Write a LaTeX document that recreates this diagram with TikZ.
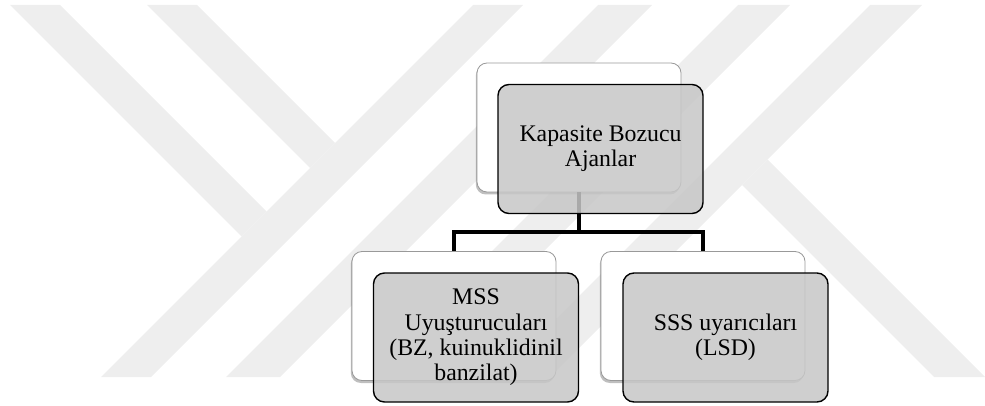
\documentclass[tikz,border=0pt]{standalone}
\usepackage{fontspec}
\setmainfont{Liberation Serif}
\usetikzlibrary{shadows}

\definecolor{wmark}{gray}{0.935}
\definecolor{backedge}{gray}{0.6}
\definecolor{frontfill}{gray}{0.78}

\tikzset{
  backbox/.style={draw=backedge, line width=0.8pt, fill=white, rounded corners=10pt,
    minimum width=204pt, minimum height=129pt, inner sep=0pt,
    drop shadow={shadow xshift=-1.2pt, shadow yshift=-2.5pt, opacity=0.25, fill=black}},
  frontbox/.style={draw=black, line width=1.4pt, fill=frontfill, fill opacity=0.85,
    text opacity=1, rounded corners=11pt, minimum width=205pt, minimum height=129pt,
    inner sep=0pt, align=center, font=\fontsize{23.8pt}{25.3pt}\selectfont},
  conn/.style={draw=black, line width=4pt},
  band/.style={fill=wmark, draw=none}
}

\begin{document}
\begin{tikzpicture}[x=1pt, y=-1pt]
  \useasboundingbox (0,0) rectangle (985,406);

  % faint background emblem made of diagonal bands
  \fill[band] (10,5) -- (60,5) -- (266.5,211.5) -- (241.5,236.5) -- cycle;
  \fill[band] (147,5) -- (197,5) -- (335,143) -- (310,168) -- cycle;
  \fill[band] (473,5) -- (523,5) -- (151,377) -- (101,377) -- cycle;
  \fill[band] (598,5) -- (652,5) -- (280,377) -- (226,377) -- cycle;
  \fill[band] (738,5) -- (790,5) -- (418,377) -- (366,377) -- cycle;
  \fill[band] (870,5) -- (922,5) -- (550,377) -- (498,377) -- cycle;
  \fill[band] (767.5,159.5) -- (985,377) -- (934,377) -- (742,185) -- cycle;

  % rear (white) cards
  \node[backbox] (topback)   at (579,127.5) {};
  \node[backbox] (leftback)  at (454,316) {};
  \node[backbox] (rightback) at (703,316) {};

  % hierarchy connectors
  \coordinate (bus) at (579,232);
  \draw[conn] (topback.south) -- (bus) -| (leftback.north);
  \draw[conn] (bus) -| (rightback.north);

  % front (grey) cards with the labels
  \node[frontbox] (top)   at (600.5,149) {Kapasite Bozucu\\Ajanlar};
  \node[frontbox] (left)  at (476,337.5) {MSS\\Uyuşturucuları\\(BZ, kuinuklidinil\\banzilat)};
  \node[frontbox] (right) at (725.5,337.5) {SSS uyarıcıları\\(LSD)};
\end{tikzpicture}
\end{document}
